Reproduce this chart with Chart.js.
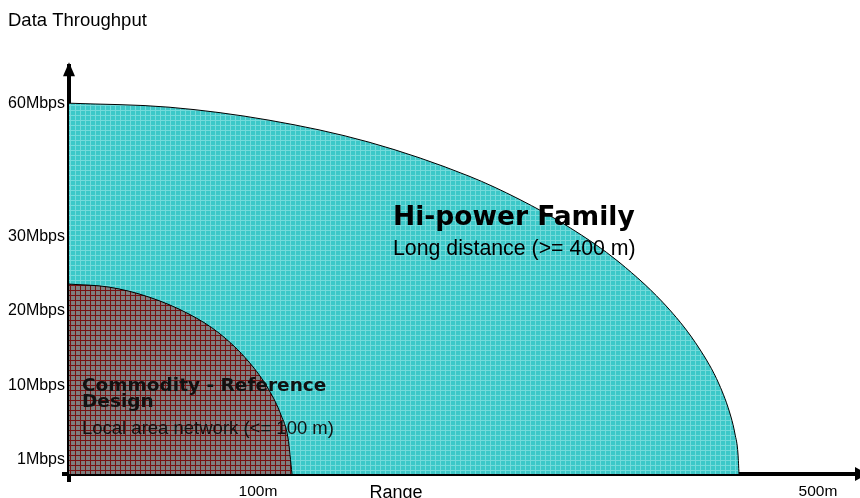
<!DOCTYPE html>
<html>
<head>
<meta charset="utf-8">
<title>Data Throughput</title>
<script src="https://cdn.jsdelivr.net/npm/chart.js@4.4.1/dist/chart.umd.min.js"></script>
<style>
  html, body { margin: 0; padding: 0; background: #fff; }
  #wrap { width: 860px; height: 498px; }
</style>
</head>
<body>
<div id="wrap"><canvas id="throughputChart" width="860" height="498"></canvas></div>
<script>
// schematic units: x = range from origin, y = height above the range axis
const hiPowerRange = [0, 100, 200, 300, 400, 450, 500, 550, 600, 630, 650, 662, 666, 669, 670];
const hiPowerHeight = [371, 367, 354, 332, 298, 275, 247, 212, 165, 126, 90, 57, 40, 20, 0];
const commodityRange = [0, 40, 80, 120, 150, 180, 200, 212, 219, 223];
const commodityHeight = [190, 187, 177, 160, 141, 112, 84, 59, 36, 0];

const yTickValues = [14, 88, 163, 238, 371];
const yTickLabels = ['1Mbps', '10Mbps', '20Mbps', '30Mbps', '60Mbps'];
const xTickValues = [189, 327, 749];
const xTickLabels = ['100m', 'Range', '500m'];

const hiPowerText = ['Hi-power Family', 'Long distance (>= 400 m)'];
const commodityText = ['Commodity - Reference', 'Design', 'Local area network (<= 100 m)'];

const FONT = "'Liberation Sans', Arial, sans-serif";
const BOLD_FONT = "'DejaVu Sans', 'Liberation Sans', sans-serif";

function toPoints(xs, ys) {
    return xs.map((x, i) => ({ x: x, y: ys[i] }));
}

// small tiled grid used as fill
function makePattern(bg, line, size) {
    const c = document.createElement('canvas');
    c.width = size;
    c.height = size;
    const g = c.getContext('2d');
    g.fillStyle = bg;
    g.fillRect(0, 0, size, size);
    g.fillStyle = line;
    g.fillRect(0, 0, size, 1);
    g.fillRect(0, 0, 1, size);
    return g.createPattern(c, 'repeat');
}

const cyanFill = makePattern('#3cc8c8', '#74dada', 5);
const brownFill = makePattern('#7f7f7f', '#781212', 5);

const areaLabels = {
    id: 'areaLabels',
    afterDatasetsDraw(chart) {
        const ctx = chart.ctx;
        const xs = chart.scales.x;
        const ys = chart.scales.y;
        ctx.save();
        ctx.fillStyle = '#000';
        ctx.textAlign = 'left';
        ctx.textBaseline = 'alphabetic';

        ctx.font = 'bold 26.5px ' + BOLD_FONT;
        ctx.fillText(hiPowerText[0], xs.getPixelForValue(324), ys.getPixelForValue(249));
        ctx.font = '21.3px ' + FONT;
        ctx.fillText(hiPowerText[1], xs.getPixelForValue(324), ys.getPixelForValue(219));

        ctx.fillStyle = '#111';
        ctx.font = 'bold 18.5px ' + BOLD_FONT;
        ctx.fillText(commodityText[0], xs.getPixelForValue(13), ys.getPixelForValue(83));
        ctx.fillText(commodityText[1], xs.getPixelForValue(13), ys.getPixelForValue(67));
        ctx.font = '18.5px ' + FONT;
        ctx.fillText(commodityText[2], xs.getPixelForValue(13), ys.getPixelForValue(40));
        ctx.restore();
    }
};

const axisArrows = {
    id: 'axisArrows',
    afterDraw(chart) {
        const ctx = chart.ctx;
        const a = chart.chartArea;
        ctx.save();
        ctx.fillStyle = '#000';
        // little stubs past the origin
        ctx.fillRect(a.left - 2, a.bottom, 4, 8);
        ctx.fillRect(a.left - 7, a.bottom - 2, 7, 4);
        // y arrow
        ctx.beginPath();
        ctx.moveTo(a.left - 6, a.top + 10);
        ctx.lineTo(a.left + 6, a.top + 10);
        ctx.lineTo(a.left, a.top - 4);
        ctx.closePath();
        ctx.fill();
        // x arrow
        ctx.beginPath();
        ctx.moveTo(a.right, a.bottom - 7);
        ctx.lineTo(a.right, a.bottom + 7);
        ctx.lineTo(a.right + 13, a.bottom);
        ctx.closePath();
        ctx.fill();
        ctx.restore();
    }
};

function initChart() {
    const ctx = document.getElementById('throughputChart').getContext('2d');
    return new Chart(ctx, {
        type: 'line',
        data: {
            datasets: [{
                label: 'Commodity - Reference Design',
                data: toPoints(commodityRange, commodityHeight),
                borderColor: '#000',
                borderWidth: 1,
                backgroundColor: brownFill,
                fill: 'origin',
                pointRadius: 0,
                cubicInterpolationMode: 'monotone',
                order: 0
            }, {
                label: 'Hi-power Family',
                data: toPoints(hiPowerRange, hiPowerHeight),
                borderColor: '#000',
                borderWidth: 1,
                backgroundColor: cyanFill,
                fill: 'origin',
                pointRadius: 0,
                cubicInterpolationMode: 'monotone',
                order: 1
            }]
        },
        options: {
            responsive: false,
            animation: false,
            events: [],
            layout: { padding: { left: 8, right: 5, top: 0, bottom: 0 } },
            plugins: {
                legend: { display: false },
                tooltip: { enabled: false },
                title: {
                    display: true,
                    text: 'Data Throughput',
                    align: 'start',
                    color: '#000',
                    font: { family: FONT, size: 18.5, weight: 'normal' },
                    padding: { top: 10, bottom: 34 }
                }
            },
            scales: {
                x: {
                    type: 'linear',
                    min: 0,
                    max: 786,
                    z: 1,
                    grid: { display: false, drawTicks: false },
                    border: { display: true, color: '#000', width: 4 },
                    afterBuildTicks: s => { s.ticks = xTickValues.map(v => ({ value: v })); },
                    afterFit: s => { s.height = 24; },
                    ticks: {
                        autoSkip: false,
                        maxRotation: 0,
                        padding: 8,
                        color: '#000',
                        callback: (v, i) => xTickLabels[i],
                        font: c => ({ family: FONT, size: c.tick && c.tick.label === 'Range' ? 18 : 15.5 })
                    }
                },
                y: {
                    type: 'linear',
                    min: 0,
                    max: 408,
                    z: 1,
                    grid: { display: false, drawTicks: false },
                    border: { display: true, color: '#000', width: 4 },
                    afterBuildTicks: s => { s.ticks = yTickValues.map(v => ({ value: v })); },
                    afterFit: s => { s.width = 61; },
                    ticks: {
                        autoSkip: false,
                        padding: 4,
                        color: '#000',
                        callback: (v, i) => yTickLabels[i],
                        font: { family: FONT, size: 16 }
                    }
                }
            }
        },
        plugins: [areaLabels, axisArrows]
    });
}

initChart();
</script>
</body>
</html>
